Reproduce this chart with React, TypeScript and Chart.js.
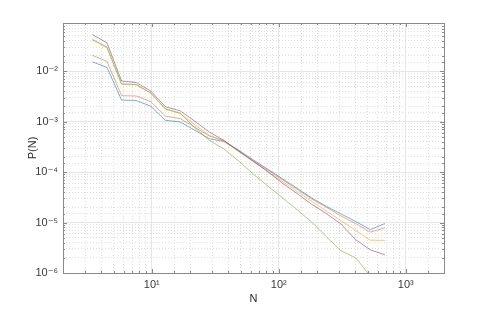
import React, { useEffect, useRef } from 'react';
import { Chart, registerables } from 'chart.js';

Chart.register(...registerables);

// Bin centres N
const binN = [3.40, 4.44, 5.78, 7.54, 9.83, 12.8, 16.7, 21.8, 28.4, 37.0, 48.3, 63.0, 82.1, 107, 140, 182, 237, 309, 403, 526, 685];

// P(N) for five series
const seriesBlue = [0.01535, 0.01186, 0.00267, 0.00262, 0.00202, 0.00106, 0.000986, 0.000676, 0.000457, 0.000404, 0.000272, 0.000175, 0.000114, 7.35e-5, 4.74e-5, 3.06e-5, 2.09e-5, 1.48e-5, 1.05e-5, 7.24e-6, 9.55e-6];
const seriesOrange = [0.0206, 0.0156, 0.00327, 0.00322, 0.00248, 0.00128, 0.00115, 0.000776, 0.000518, 0.000423, 0.000259, 0.000167, 0.000109, 7.02e-5, 4.53e-5, 2.92e-5, 2.0e-5, 1.35e-5, 9.55e-6, 6.46e-6, 7.83e-6];
const seriesYellow = [0.0417, 0.0288, 0.0055, 0.00532, 0.00363, 0.00176, 0.00145, 0.000871, 0.000532, 0.000404, 0.000255, 0.000161, 0.000102, 6.49e-5, 4.11e-5, 2.63e-5, 1.69e-5, 1.09e-5, 7.01e-6, 4.47e-6, 4.43e-6];
const seriesPurple = [0.0532, 0.0363, 0.0064, 0.00594, 0.00404, 0.00197, 0.00164, 0.00102, 0.000622, 0.000423, 0.000263, 0.000164, 0.000102, 6.03e-5, 3.72e-5, 2.29e-5, 1.51e-5, 9.33e-6, 4.57e-6, 2.88e-6, 2.29e-6];
const seriesGreen = [0.0427, 0.0302, 0.00562, 0.00545, 0.00372, 0.0018, 0.00148, 0.000759, 0.000423, 0.000288, 0.000166, 9.12e-5, 5.25e-5, 3.09e-5, 1.78e-5, 1.02e-5, 5.25e-6, 2.75e-6, 2.0e-6, 8.7e-7, null];

const seriesColors = ['rgba(0,114,189,0.55)', 'rgba(217,83,25,0.5)', 'rgba(237,177,32,0.65)', 'rgba(126,47,142,0.55)', 'rgba(119,172,48,0.6)'];

// Tick labels
const xTickExponents = [1, 2, 3];
const xTickLabels = ['10¹', '10²', '10³'];
const yTickExponents = [-2, -3, -4, -5, -6];
const yTickLabels = ['10⁻²', '10⁻³', '10⁻⁴', '10⁻⁵', '10⁻⁶'];

const xAxisTitle = 'N';
const yAxisTitle = 'P(N)';

const FONT = "'Liberation Sans', Arial, Helvetica, 'DejaVu Sans', sans-serif";

function isMajor(v: number) {
  const l = Math.log10(v);
  return Math.abs(l - Math.round(l)) < 1e-6;
}

function labelFor(v: number, exps: number[], labels: string[]) {
  if (!isMajor(v)) return '';
  const e = Math.round(Math.log10(v));
  const i = exps.indexOf(e);
  return i >= 0 ? labels[i] : '';
}

function makePattern(w: number, h: number, color: string): CanvasPattern | string {
  const c = document.createElement('canvas');
  c.width = w;
  c.height = h;
  const g = c.getContext('2d');
  if (!g) return color;
  g.fillStyle = color;
  g.fillRect(0, 0, 1, 1);
  const p = g.createPattern(c, 'repeat');
  return p || color;
}

const boxTicks = {
  id: 'boxTicks',
  afterDatasetsDraw(chart: any) {
    const { ctx, chartArea: a, scales } = chart;
    ctx.save();
    ctx.strokeStyle = '#8a8a8a';
    ctx.lineWidth = 1;
    ctx.beginPath();
    for (const t of scales.x.ticks) {
      const px = Math.round(scales.x.getPixelForValue(t.value)) + 0.5;
      if (px < a.left || px > a.right) continue;
      const len = isMajor(t.value) ? 4 : 2;
      ctx.moveTo(px, a.bottom);
      ctx.lineTo(px, a.bottom - len);
      ctx.moveTo(px, a.top);
      ctx.lineTo(px, a.top + len);
    }
    for (const t of scales.y.ticks) {
      const py = Math.round(scales.y.getPixelForValue(t.value)) + 0.5;
      if (py < a.top || py > a.bottom) continue;
      const len = isMajor(t.value) ? 4 : 2;
      ctx.moveTo(a.left, py);
      ctx.lineTo(a.left + len, py);
      ctx.moveTo(a.right, py);
      ctx.lineTo(a.right - len, py);
    }
    ctx.stroke();
    ctx.strokeRect(Math.round(a.left) + 0.5, Math.round(a.top) + 0.5, Math.round(a.right - a.left), Math.round(a.bottom - a.top));
    ctx.restore();
  },
};

export default function App() {
  const ref = useRef<HTMLCanvasElement>(null);

  useEffect(() => {
    if (!ref.current) return;
    const vDots = makePattern(1, 3, '#dedede');
    const hDots = makePattern(3, 1, '#dedede');
    const majorGrid = '#e6e6e6';
    const all = [seriesBlue, seriesOrange, seriesYellow, seriesPurple, seriesGreen];
    const names = ['Series 1', 'Series 2', 'Series 3', 'Series 4', 'Series 5'];
    const chart = new Chart(ref.current, {
      type: 'line',
      data: {
        datasets: all.map((s, k) => ({
          label: names[k],
          data: binN.map((x, i) => ({ x, y: s[i] })),
          borderColor: seriesColors[k],
          backgroundColor: seriesColors[k],
          borderWidth: 1,
          pointRadius: 0,
          tension: 0,
          fill: false,
          order: 5 - k,
        })),
      },
      plugins: [boxTicks],
      options: {
        responsive: false,
        animation: false,
        layout: { padding: { top: 23, right: 47, left: 0, bottom: 0 } },
        plugins: { legend: { display: false }, tooltip: { enabled: false } },
        scales: {
          x: {
            type: 'logarithmic',
            position: 'bottom',
            min: 2,
            max: 2000,
            afterFit: (s: any) => { s.height = 36; },
            border: { display: false },
            grid: {
              drawTicks: false,
              color: (c: any) => (c.tick && isMajor(c.tick.value) ? majorGrid : vDots),
              lineWidth: 1,
            },
            ticks: {
              autoSkip: false,
              maxRotation: 0,
              padding: 5,
              color: '#3a3a3a',
              font: { family: FONT, size: 11 },
              callback: (v: any) => labelFor(Number(v), xTickExponents, xTickLabels),
            },
            title: {
              display: true,
              text: xAxisTitle,
              color: '#2a2a2a',
              font: { family: FONT, size: 11 },
              padding: { top: 0, bottom: 3 },
            },
          },
          y: {
            type: 'logarithmic',
            position: 'left',
            min: 1e-6,
            max: 0.09,
            afterFit: (s: any) => { s.width = 63; },
            border: { display: false },
            grid: {
              drawTicks: false,
              color: (c: any) => (c.tick && isMajor(c.tick.value) ? majorGrid : hDots),
              lineWidth: 1,
            },
            ticks: {
              autoSkip: false,
              padding: 5,
              color: '#3a3a3a',
              font: { family: FONT, size: 11 },
              callback: (v: any) => labelFor(Number(v), yTickExponents, yTickLabels),
            },
            title: {
              display: true,
              text: yAxisTitle,
              color: '#2a2a2a',
              font: { family: FONT, size: 11 },
              padding: { top: 26, bottom: 0 },
            },
          },
        },
      },
    } as any);
    return () => chart.destroy();
  }, []);

  return (
    <div style={{ position: 'fixed', left: 0, top: 0, width: 491, height: 309, background: '#fff' }}>
      <canvas ref={ref} width={491} height={309} style={{ display: 'block', width: 491, height: 309 }} />
    </div>
  );
}
